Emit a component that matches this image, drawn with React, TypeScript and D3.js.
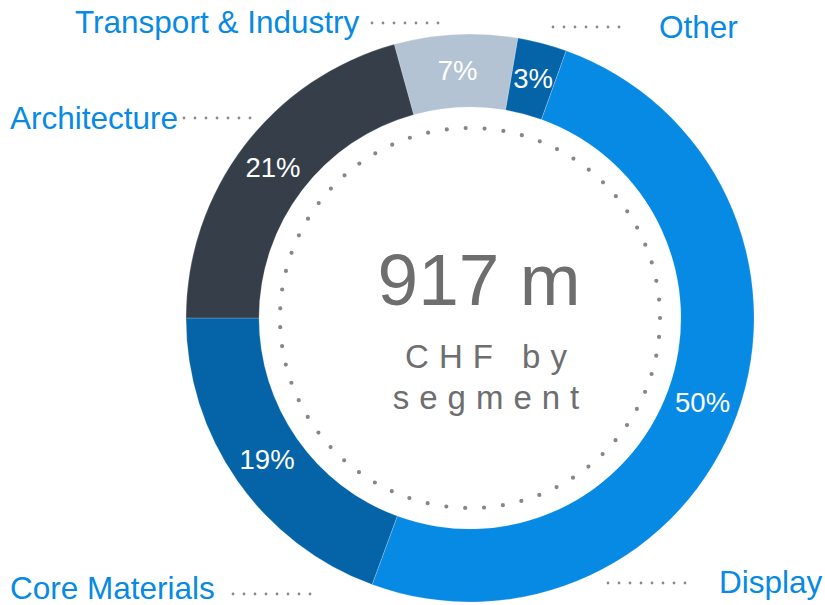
import React from "react";
import * as d3 from "d3";

const categories = ["Transport & Industry", "Other", "Display", "Core Materials", "Architecture"];
const values = [7.0, 2.8, 50.1, 19.4, 20.7];
const percentLabels = ["7%", "3%", "50%", "19%", "21%"];
const totalLabel = "917 m";
const subtitleLines = ["CHF by", "segment"];

const colors = ["#b3c3d3", "#0563a7", "#078ae4", "#0563a7", "#353e49"];

// label layout (annotation positions)
const labelLayout = [
  { tx: 75, ty: 33, lx1: 372, lx2: 449, ly: 23 },
  { tx: 659, ty: 38, lx1: 553, lx2: 630, ly: 27 },
  { tx: 719, ty: 593, lx1: 608, lx2: 696, ly: 583 },
  { tx: 10, ty: 599, lx1: 233, lx2: 321, ly: 594 },
  { tx: 10, ty: 129, lx1: 184, lx2: 258, ly: 118 },
];

export default function App() {
  const W = 825, H = 605;
  const cx = 470, cy = 318;
  const outerR = 284, innerR = 211, dotR = 190;
  const start = -0.043 * 2 * Math.PI;
  const pie = d3.pie<number>().sort(null).value((d) => d).startAngle(start).endAngle(start + 2 * Math.PI);
  const arcs = pie(values);
  const arcGen = d3.arc<d3.PieArcDatum<number>>().innerRadius(innerR).outerRadius(outerR);
  const circ = 2 * Math.PI * dotR;
  const nDots = 63;
  const font = "'Liberation Sans', Arial, sans-serif";
  return (
    <svg width={W} height={H} style={{ position: "absolute", left: 0, top: 0 }} fontFamily={font}>
      <g transform={`translate(${cx},${cy})`}>
        {arcs.map((a, i) => (
          <path key={i} d={arcGen(a) || ""} fill={colors[i]} stroke="#ffffff" strokeOpacity={0.35} strokeWidth={0.6} />
        ))}
        <circle r={dotR} fill="none" stroke="#878787" strokeWidth={4.2} strokeLinecap="round" strokeDasharray={`0 ${circ / nDots}`} />
        {arcs.map((a, i) => {
          const [x, y] = arcGen.centroid(a);
          return (
            <text key={i} x={x} y={y + 9} textAnchor="middle" fill="#ffffff" fontSize={27.5}>
              {percentLabels[i]}
            </text>
          );
        })}
        <text x={9} y={-13} textAnchor="middle" fill="#6e6e6e" fontSize={73}>{totalLabel}</text>
        {subtitleLines.map((s, i) => (
          <text key={i} x={21} y={50 + i * 41} textAnchor="middle" fill="#6e6e6e" fontSize={33} letterSpacing={10}>
            {s}
          </text>
        ))}
      </g>
      {labelLayout.map((l, i) => (
        <g key={i}>
          <line x1={l.lx1} x2={l.lx2} y1={l.ly} y2={l.ly} stroke="#8a8a8a" strokeWidth={2.8} strokeLinecap="round" strokeDasharray="0 11" />
          <text x={l.tx} y={l.ty} fill="#078ae4" fontSize={31.5}>{categories[i]}</text>
        </g>
      ))}
    </svg>
  );
}
